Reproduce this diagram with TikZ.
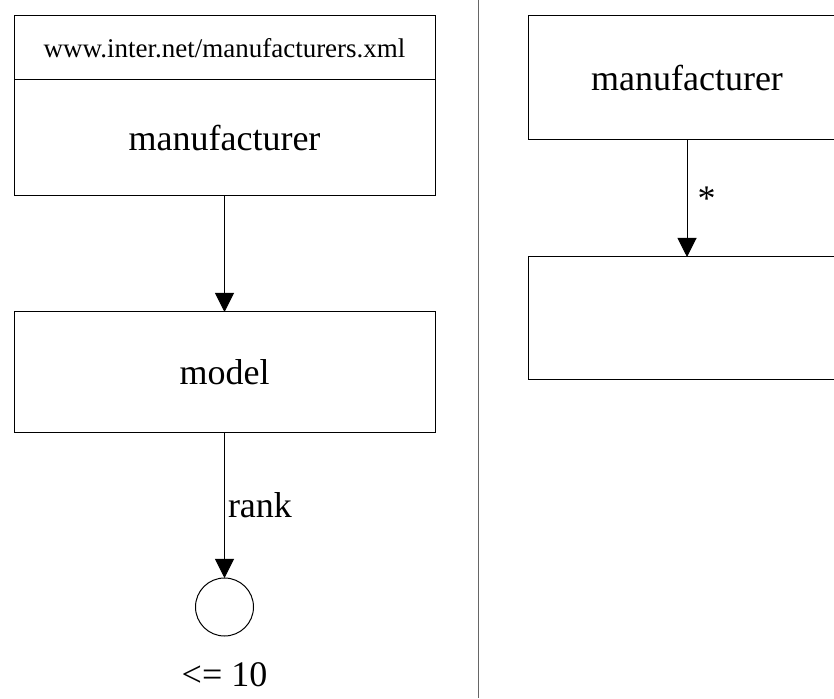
\documentclass[tikz,border=0pt]{standalone}
\usepackage{fontspec}
\setmainfont{Liberation Serif}
\usepackage{tikz}
\usetikzlibrary{arrows.meta,positioning}

\begin{document}
\begin{tikzpicture}[x=1pt, y=1pt, node distance=116pt, line width=1pt,
    box/.style={rectangle, draw, minimum width=421pt, inner sep=0pt, outer sep=0pt, font=\fontsize{36}{40}\selectfont},
    urlbox/.style={box, minimum height=64pt, font=\fontsize{27}{30}\selectfont},
    arrow/.style={-{Triangle[length=19pt, width=19pt]}},
    tag/.style={font=\fontsize{36}{40}\selectfont}]

    \clip (0,0) rectangle (834,698);

    \node[urlbox] (url) at (224.5,650) {www.inter.net/manufacturers.xml};
    \node[box, minimum height=116pt, below=0pt of url] (manuf) {manufacturer};
    \node[box, minimum height=121pt, below=of manuf] (model) {model};
    \node[circle, draw, outer sep=0pt, minimum size=58pt, below=145pt of model] (limit) {};
    \node[tag, inner sep=0pt, below=26pt of limit] (bound) {<= 10};

    \draw[arrow] (manuf) to (model);
    \draw[arrow] (model) to node[tag, right, inner sep=3pt] {rank} (limit);

    \draw[gray!80!black] (478,0) -- (478,698);

    \node[box, minimum width=318pt, minimum height=124pt] (rmanuf) at (687,620) {manufacturer};
    \node[box, minimum width=318pt, minimum height=123pt, below=117pt of rmanuf] (rmodel) {};

    \draw[arrow] (rmanuf) to node[tag, right, inner sep=10pt] {*} (rmodel);
\end{tikzpicture}
\end{document}
